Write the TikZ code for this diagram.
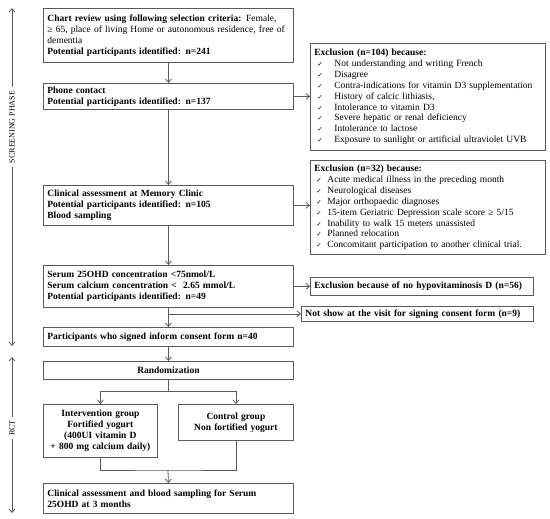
\documentclass[tikz,border=0pt]{standalone}
\usepackage{fontspec}
\setmainfont{Liberation Serif}
\newfontfamily\symfont{DejaVu Sans}
\usepackage{tikz}
\usetikzlibrary{arrows.meta}

\definecolor{linegray}{HTML}{5A5A5A}
\newcommand{\chk}{{\symfont\fontsize{6.5}{8}\selectfont ✓}}
\newcommand{\itemA}[1]{\hspace*{3pt}\makebox[17pt][l]{\chk}#1}
\newcommand{\itemB}[1]{\hspace*{2pt}\makebox[11pt][l]{\chk}#1}

\tikzset{
  box/.style={draw=linegray, line width=0.8pt, anchor=north west, inner xsep=4pt,
    inner ysep=2pt, align=left, font=\fontsize{9.5}{10.9}\selectfont},
  cbox/.style={box, align=center},
  arr/.style={draw=linegray, line width=0.8pt, -{Straight Barb[length=3.5pt,width=6pt]}},
  ln/.style={draw=linegray, line width=0.8pt}
}

\begin{document}
\begin{tikzpicture}[x=1pt,y=-1pt]
  \useasboundingbox (0,0) rectangle (550,519);

  % main column
  \node[box, text width=242pt, minimum height=54pt] (chart) at (43,8)
    {\textbf{Chart review using following selection criteria:} Female,\\
     ≥ 65, place of living Home or autonomous residence, free of\\
     dementia\\
     \textbf{Potential participants identified: n=241}};
  \node[box, text width=242pt, minimum height=26pt] (phone) at (43,83)
    {\textbf{Phone contact}\\ \textbf{Potential participants identified: n=137}};
  \node[box, text width=242pt, minimum height=40pt] (clinic) at (43,185)
    {\textbf{Clinical assessment at Memory Clinic}\\
     \textbf{Potential participants identified: n=105}\\
     \textbf{Blood sampling}};
  \node[box, text width=242pt, minimum height=42pt] (serum) at (43,265)
    {\textbf{Serum 25OHD concentration <75nmol/L}\\
     \textbf{Serum calcium concentration <\ \ 2.65 mmol/L}\\
     \textbf{Potential participants identified: n=49}};
  \node[box, text width=242pt, minimum height=19pt] (consent) at (43,327)
    {\textbf{Participants who signed inform consent form n=40}};
  \node[cbox, text width=242pt, minimum height=18pt] (random) at (43,361)
    {\textbf{Randomization}};
  \node[cbox, text width=106pt, minimum height=53pt] (interv) at (43,404)
    {\textbf{Intervention group}\\ \textbf{Fortified yogurt}\\
     \textbf{(400UI vitamin D}\\ \textbf{+ 800 mg calcium daily)}};
  \node[cbox, text width=107pt, minimum height=36pt] (control) at (178,404)
    {\textbf{Control group}\\ \textbf{Non fortified yogurt}};
  \node[box, text width=242pt, minimum height=30pt] (final) at (43,483)
    {\textbf{Clinical assessment and blood sampling for Serum}\\
     \textbf{25OHD at 3 months}};

  % exclusions
  \node[box, text width=227pt, minimum height=107pt] (excla) at (310,43)
    {\textbf{Exclusion (n=104) because:}\\
     \itemA{Not understanding and writing French}\\
     \itemA{Disagree}\\
     \itemA{Contra-indications for vitamin D3 supplementation}\\
     \itemA{History of calcic lithiasis,}\\
     \itemA{Intolerance to vitamin D3}\\
     \itemA{Severe hepatic or renal deficiency}\\
     \itemA{Intolerance to lactose}\\
     \itemA{Exposure to sunlight or artificial ultraviolet UVB}};
  \node[box, text width=227pt, minimum height=94pt] (exclb) at (310,160)
    {\textbf{Exclusion (n=32) because:}\\
     \itemB{Acute medical illness in the preceding month}\\
     \itemB{Neurological diseases}\\
     \itemB{Major orthopaedic diagnoses}\\
     \itemB{15-item Geriatric Depression scale score ≥ 5/15}\\
     \itemB{Inability to walk 15 meters unassisted}\\
     \itemB{Planned relocation}\\
     \itemB{Concomitant participation to another clinical trial.}};
  \node[box, text width=215pt, minimum height=18pt] (hypo) at (310,277)
    {\textbf{Exclusion because of no hypovitaminosis D (n=56)}};
  \node[box, text width=224pt, minimum height=15pt] (noshow) at (301,306)
    {\textbf{Not show at the visit for signing consent form (n=9)}};

  % arrows
  \draw[arr] (chart) -- (phone);
  \draw[arr] (phone) -- (clinic);
  \draw[arr] (clinic) -- (serum);
  \draw[arr] (serum) -- (consent);
  \draw[arr] (consent) -- (random);
  \draw[arr] (phone.east) -- (phone.east -| excla.west);
  \draw[arr] (clinic.east) -- (clinic.east -| exclb.west);
  \draw[arr] (serum.east) -- (serum.east -| hypo.west);
  \draw[arr] (serum.south |- noshow.west) -- (noshow.west);

  \coordinate (split) at ([yshift=-12pt]random.south);
  \draw[arr] (split) -| (interv.north);
  \draw[arr] (split) -| (control.north);
  \draw[ln] (random.south) -- (split);
  \coordinate (join) at (168,470);
  \draw[ln] (interv.south) |- (join) -| (control.south);
  \draw[arr] (join) -- (final.north);

  % phases
  \node[rotate=90, font=\fontsize{8}{9}\selectfont] (scr) at (12,127) {SCREENING PHASE};
  \coordinate (scrtop) at (12,8);
  \coordinate (scrbot) at (12,346);
  \draw[arr] (scr.east) -- (scrtop);
  \draw[arr] (scr.west) -- (scrbot);
  \node[rotate=90, font=\fontsize{8}{9}\selectfont] (rct) at (12,428) {RCT};
  \coordinate (rcttop) at (12,357);
  \coordinate (rctbot) at (12,513);
  \draw[arr] (rct.east) -- (rcttop);
  \draw[arr] (rct.west) -- (rctbot);
\end{tikzpicture}
\end{document}
